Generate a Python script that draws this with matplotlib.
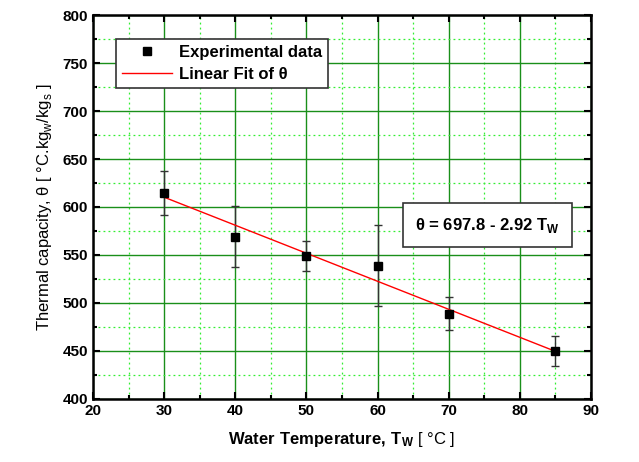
import matplotlib.pyplot as plt
import numpy as np

plt.rcParams['font.family'] = ['Liberation Sans', 'DejaVu Sans']
plt.rcParams['mathtext.fontset'] = 'custom'
plt.rcParams['mathtext.rm'] = 'Liberation Sans'
plt.rcParams['mathtext.bf'] = 'Liberation Sans:bold'

# data
temp = [30, 40, 50, 60, 70, 85]
theta = [615, 569, 549, 539, 489, 450]
theta_err = [23, 32, 16, 42, 17, 16]
fit_x = [30, 85]
intercept = 697.8
slope = -2.92

fig = plt.figure(figsize=(6.39, 4.62), dpi=100)
ax = fig.add_axes([0.1455, 0.1364, 0.7795, 0.8311])

ax.set_xlim(20, 90)
ax.set_ylim(400, 800)
ax.set_xticks(np.arange(20, 91, 10))
ax.set_yticks(np.arange(400, 801, 50))
ax.set_xticks(np.arange(25, 90, 10), minor=True)
ax.set_yticks(np.arange(425, 800, 50), minor=True)

ax.grid(which='major', color='#1a8f1a', lw=1.0)
ax.grid(which='minor', color='#33ee33', lw=0.9, ls=(0, (1.5, 2.5)))
ax.set_axisbelow(True)

ax.tick_params(which='both', direction='in', top=True, right=True, width=1.5)
ax.tick_params(which='major', length=5)
ax.tick_params(which='minor', length=3)
for lab in ax.get_xticklabels() + ax.get_yticklabels():
    lab.set_fontweight('bold')
    lab.set_fontsize(11)
for sp in ax.spines.values():
    sp.set_linewidth(1.8)

ax.errorbar(temp, theta, yerr=theta_err, fmt='none', ecolor='#333333',
            elinewidth=1, capsize=3, capthick=1, zorder=3)
ax.plot(temp, theta, 's', color='black', ms=6, label='Experimental data',
        zorder=5)
fx = np.array(fit_x)
ax.plot(fx, intercept + slope * fx, color='red', lw=1,
        label='Linear Fit of θ', zorder=4)

leg = ax.legend(loc='upper left', bbox_to_anchor=(0.03, 0.96), fancybox=False,
                framealpha=1, edgecolor='#333333', borderpad=0.35,
                handlelength=3.0, handletextpad=0.4, labelspacing=0.45,
                prop={'weight': 'bold', 'size': 12})
leg.get_frame().set_linewidth(1.2)

ax.text(0.792, 0.452, 'θ = 697.8 - 2.92 T$_\\mathbf{W}$',
        transform=ax.transAxes, ha='center', va='center', fontsize=12,
        fontweight='bold',
        bbox=dict(boxstyle='square,pad=0.75', fc='white', ec='#333333', lw=1.2))

ax.set_xlabel(r'$\mathbf{Water\ Temperature,\,T_W}$ [ °C ]', fontsize=12,
              labelpad=9)
ax.set_ylabel('Thermal capacity, θ [ °C.kg$_\\mathrm{w}$/kg$_\\mathrm{s}$ ]',
              fontsize=12, labelpad=6)

fig.savefig('out.png', dpi=100)
